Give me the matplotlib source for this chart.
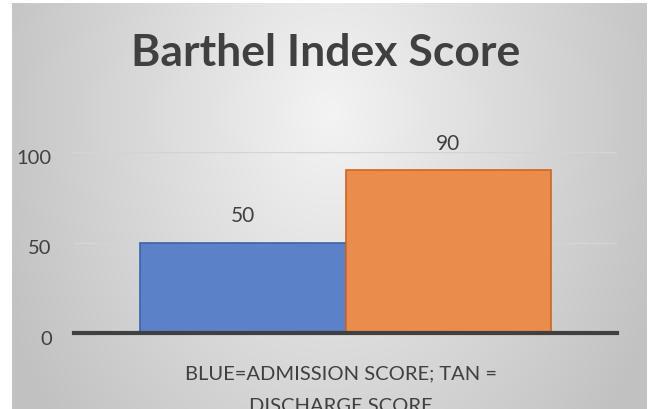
import numpy as np
import matplotlib
matplotlib.use('Agg')
import matplotlib.pyplot as plt
import matplotlib.transforms as mtransforms

# data
series_names = ['Admission', 'Discharge']
scores = [50, 90]
bar_colors = ['#5b82c8', '#ea8c4c']
edge_colors = ['#3c62a8', '#d0651f']
y_ticks = [0, 50, 100]
title = 'Barthel Index Score'
x_label = 'BLUE=ADMISSION SCORE; TAN =\nDISCHARGE SCORE'

plt.rcParams['font.family'] = ['Lato', 'DejaVu Sans']
text_color = '#404040'

fig = plt.figure(figsize=(6.51, 4.09), dpi=100)
fig.patch.set_facecolor('white')

# radial gradient background of the chart area
bg = fig.add_axes([12 / 651, 0, 635 / 651, 406 / 409])
yy, xx = np.mgrid[0:406, 0:635]
r = np.sqrt(((xx - 318) / 318.0) ** 2 + ((yy - 110) / 430.0) ** 2)
shade = np.clip(0.955 - 0.175 * r, 0.76, 0.955)
bg.imshow(np.dstack([shade] * 3), aspect='auto', interpolation='bilinear')
bg.set_axis_off()

ax = fig.add_axes([74 / 651, 76 / 409, 543 / 651, 181 / 409])
ax.set_facecolor('none')

width = 0.378
offsets = [-width / 2, width / 2]
for off, val, fc, ec in zip(offsets, scores, bar_colors, edge_colors):
    ax.bar(off, val, width=width, color=fc, edgecolor=ec, linewidth=1.2, zorder=3)
    ax.text(off, val + 14.5, str(val), ha='center', va='center', fontsize=15,
            color=text_color, clip_on=False)

ax.set_xlim(-0.5, 0.5)
ax.set_ylim(0, 100)
ax.set_yticks(y_ticks)
ax.set_xticks([])
ax.tick_params(axis='y', length=0, pad=16, labelsize=14.5, labelcolor=text_color)
# Excel draws the value labels a little below the gridlines
shift = mtransforms.ScaledTranslation(0, -5 / 100, fig.dpi_scale_trans)
for lab in ax.get_yticklabels():
    lab.set_transform(lab.get_transform() + shift)
ax.grid(axis='y', color='#d4d4d4', linewidth=1, zorder=0)
for s in ['top', 'right', 'left']:
    ax.spines[s].set_visible(False)
ax.spines['bottom'].set_color('#404040')
ax.spines['bottom'].set_linewidth(3)
ax.spines['bottom'].set_zorder(4)

fig.text(326 / 651, 1 - 53 / 409, title, ha='center', va='center', fontsize=32,
         fontweight='bold', color=text_color)
fig.text(341 / 651, 1 - 365 / 409, x_label, ha='center', va='top', fontsize=14.5,
         color=text_color, linespacing=2.15)

fig.savefig('out.png', dpi=100, facecolor=fig.get_facecolor())
